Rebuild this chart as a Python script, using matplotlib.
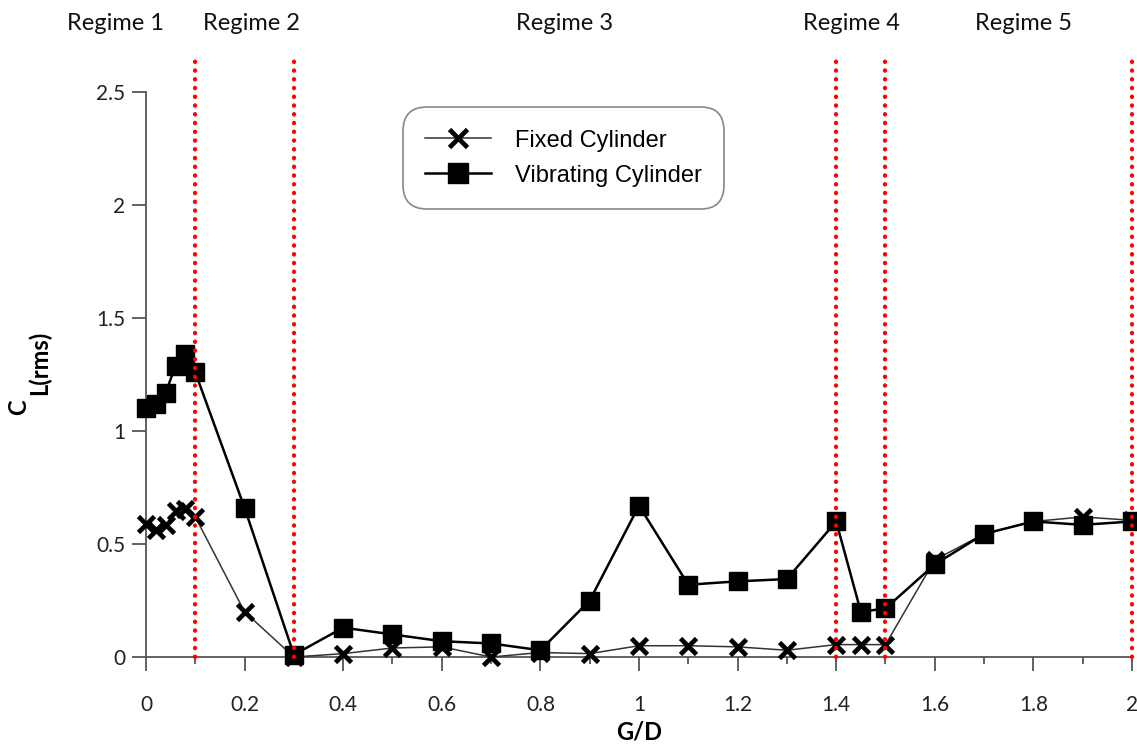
import numpy as np
import matplotlib
matplotlib.use("Agg")
import matplotlib.pyplot as plt
import matplotlib.transforms as mtransforms
from matplotlib.ticker import MultipleLocator

# G/D positions
gd = [0, 0.02, 0.04, 0.06, 0.08, 0.1, 0.2, 0.3, 0.4, 0.5, 0.6, 0.7, 0.8, 0.9,
      1.0, 1.1, 1.2, 1.3, 1.4, 1.45, 1.5, 1.6, 1.7, 1.8, 1.9, 2.0]

# C_L(rms) values
cl_fixed = [0.59, 0.56, 0.585, 0.645, 0.655, 0.62, 0.20, 0.0, 0.015, 0.04, 0.045, 0.0, 0.02, 0.015,
            0.05, 0.05, 0.045, 0.03, 0.055, 0.055, 0.055, 0.43, 0.545, 0.60, 0.62, 0.605]
cl_vib = [1.10, 1.12, 1.17, 1.29, 1.34, 1.26, 0.66, 0.01, 0.13, 0.10, 0.07, 0.06, 0.03, 0.25,
          0.67, 0.32, 0.335, 0.345, 0.60, 0.20, 0.215, 0.41, 0.545, 0.60, 0.585, 0.60]

# regime boundaries and labels
boundaries = [0.1, 0.3, 1.4, 1.5, 2.0]
regime_names = ["Regime 1", "Regime 2", "Regime 3", "Regime 4", "Regime 5"]
regime_x = [-0.061, 0.213, 0.85, 1.43, 1.78]

label_font = "Lato"
legend_font = "Liberation Sans"

fig = plt.figure(figsize=(11.37, 7.49), dpi=100)
ax = fig.add_axes([0.1284, 0.1228, 0.8672, 0.8024])

ax.plot(gd, cl_fixed, color="#333333", lw=1.1, marker="x", markersize=12,
        markeredgewidth=3.4, markeredgecolor="black", label="Fixed Cylinder",
        clip_on=False, zorder=3)
ax.plot(gd, cl_vib, color="black", lw=1.8, marker="s", markersize=13,
        markerfacecolor="black", label="Vibrating Cylinder", clip_on=False, zorder=4)

for b in boundaries:
    ax.axvline(b, color="red", lw=3.0, linestyle=(0, (0.1, 2.0)),
               dash_capstyle="round", zorder=5, clip_on=False)

ax.set_xlim(0, 2)
ax.set_ylim(0, 2.66)

ax.xaxis.set_minor_locator(MultipleLocator(0.1))
ax.set_xticks([0, 0.2, 0.4, 0.6, 0.8, 1.0, 1.2, 1.4, 1.6, 1.8, 2.0])
ax.set_xticklabels(["0", "0.2", "0.4", "0.6", "0.8", "1", "1.2", "1.4", "1.6", "1.8", "2"])
ax.set_yticks([0, 0.5, 1, 1.5, 2, 2.5])
ax.set_yticklabels(["0", "0.5", "1", "1.5", "2", "2.5"])

for side in ["top", "right"]:
    ax.spines[side].set_visible(False)
for side in ["left", "bottom"]:
    ax.spines[side].set_color("#555555")
    ax.spines[side].set_linewidth(1.3)
ax.spines["left"].set_bounds(0, 2.5)

ax.tick_params(axis="x", which="major", direction="out", length=10, width=1.3,
               color="#555555", pad=17, labelsize=15)
ax.tick_params(axis="x", which="minor", direction="out", length=5, width=1.3,
               color="#555555")
ax.tick_params(axis="y", direction="out", length=10, width=1.3, color="#555555",
               pad=5, labelsize=15)
for lab in ax.get_xticklabels() + ax.get_yticklabels():
    lab.set_fontfamily(label_font)
    lab.set_color("#222222")

ax.set_xlabel("G/D", fontsize=17, fontweight="bold", fontfamily=label_font, labelpad=4)
fig.text(0.0165, 0.4566, "C", rotation=90, ha="center", va="center",
         fontsize=17, fontweight="bold", fontfamily=label_font)
fig.text(0.0343, 0.515, "L(rms)", rotation=90, ha="center", va="center",
         fontsize=17, fontweight="bold", fontfamily=label_font)

trans = mtransforms.blended_transform_factory(ax.transData, fig.transFigure)
for name, xr in zip(regime_names, regime_x):
    ax.text(xr, 0.969, name, transform=trans, ha="center", va="center",
            fontsize=17, fontfamily=label_font, color="#111111")

leg = ax.legend(loc="upper left", bbox_to_anchor=(0.2606, 0.915), borderaxespad=0,
                prop={"family": legend_font, "size": 17}, fancybox=True,
                edgecolor="#888888", framealpha=1, handlelength=2.8,
                borderpad=0.95, labelspacing=0.55, handletextpad=1.0,
                markerscale=1.1)
leg.get_frame().set_linewidth(1.2)
leg.get_frame().set_boxstyle("round", pad=0, rounding_size=1.0)

fig.savefig("out.png", dpi=100)
